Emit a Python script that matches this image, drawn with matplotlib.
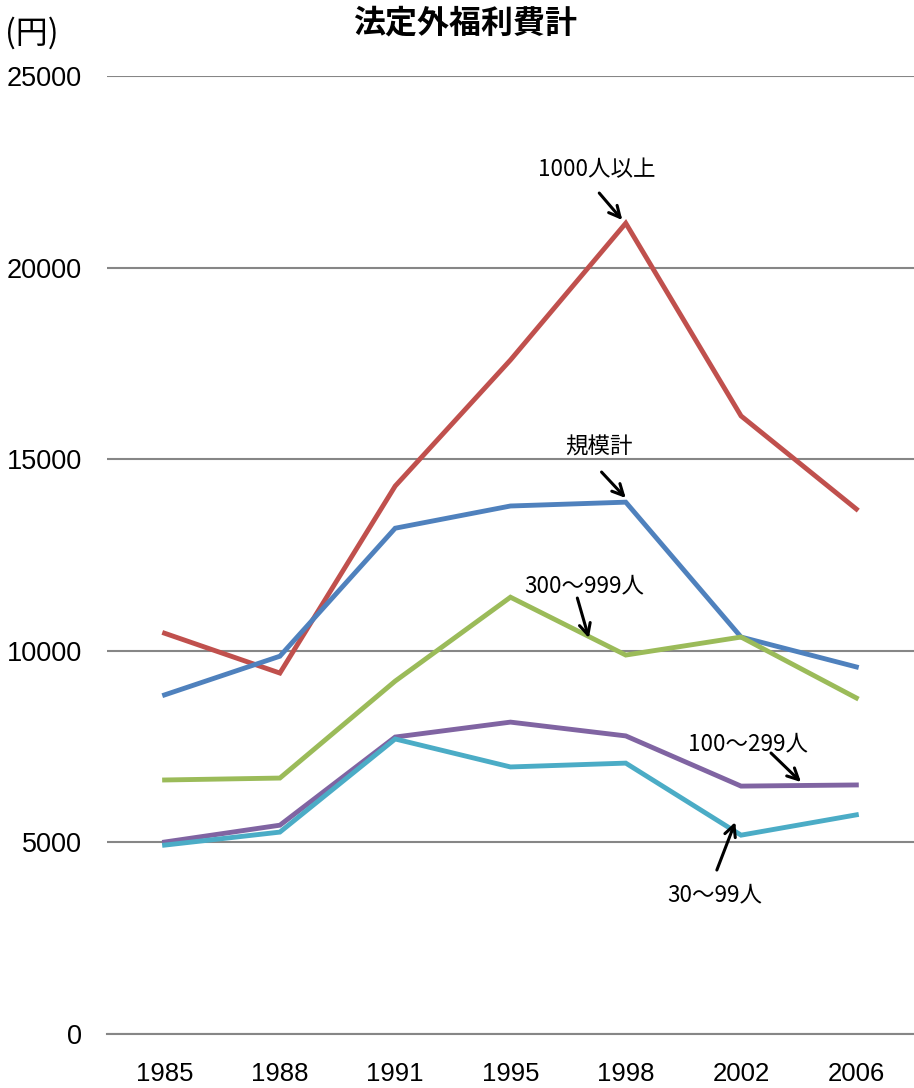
import matplotlib
matplotlib.use("Agg")
import matplotlib.pyplot as plt

years = ["1985", "1988", "1991", "1995", "1998", "2002", "2006"]
total = [8850, 9860, 13200, 13780, 13880, 10360, 9580]        # 規模計
over1000 = [10460, 9420, 14300, 17590, 21160, 16130, 13700]   # 1000人以上
s300_999 = [6630, 6680, 9210, 11400, 9890, 10360, 8770]       # 300〜999人
s100_299 = [5010, 5450, 7750, 8140, 7780, 6470, 6500]         # 100〜299人
s30_99 = [4930, 5270, 7700, 6970, 7070, 5190, 5720]           # 30〜99人

JP = ["Noto Sans CJK JP", "DejaVu Sans"]
NUM = ["Liberation Sans Narrow", "Liberation Sans", "DejaVu Sans"]

fig = plt.figure(figsize=(9.14, 10.88), dpi=100)
ax = fig.add_axes([0.117, 0.0496, 0.883, 0.8805])

x = range(len(years))
for vals, col in [(over1000, "#C0504D"), (total, "#4F81BD"), (s300_999, "#9BBB59"),
                  (s100_299, "#8064A2"), (s30_99, "#4BACC6")]:
    ax.plot(x, vals, color=col, lw=3.5, solid_joinstyle="miter", zorder=3)

ax.set_xlim(-0.5, 6.5)
ax.set_ylim(0, 25000)
ax.set_yticks(range(0, 25001, 5000))
ax.set_xticks(list(x))
ax.set_xticklabels(years)
ax.grid(axis="y", color="#868686", lw=1.5)
ax.set_axisbelow(True)
for s in ["top", "right", "left"]:
    ax.spines[s].set_visible(False)
ax.spines["bottom"].set_color("#868686")
ax.spines["bottom"].set_linewidth(1.5)
ax.tick_params(length=0)
ax.tick_params(axis="y", pad=18)
ax.tick_params(axis="x", pad=20)
for lab in ax.get_xticklabels():
    lab.set_family(NUM)
    lab.set_fontsize(18.5)
for lab in ax.get_yticklabels():
    lab.set_family(NUM)
    lab.set_fontsize(19.5)

fig.text(465 / 914, 1 - 23 / 1088, "法定外福利費計", family=JP, fontsize=23,
         fontweight="bold", ha="center", va="center")
fig.text(5 / 914, 1 - 33 / 1088, "(円)", family=JP, fontsize=23, ha="left", va="center")

# series labels with pointer arrows (text pos, arrow start, arrow tip)
notes = [
    ("1000人以上", (3.75, 22547), (3.77, 21947), (3.97, 21242)),
    ("規模計", (3.77, 15318), (3.79, 14666), (4.00, 13988)),
    ("300〜999人", (3.64, 11691), (3.58, 11378), (3.68, 10334)),
    ("100〜299人", (5.06, 7568), (5.26, 7333), (5.52, 6576)),
    ("30〜99人", (4.77, 3627), (4.79, 4280), (4.95, 5532)),
]
for txt, tpos, a0, a1 in notes:
    ax.text(*tpos, txt, family=JP, fontsize=16.2, ha="center", va="center", zorder=5)
    ax.annotate("", xy=a1, xytext=a0,
                arrowprops=dict(arrowstyle="->,head_length=0.8,head_width=0.4",
                                color="black", lw=2.2, shrinkA=0, shrinkB=0), zorder=5)

fig.savefig("out.png", dpi=100)
